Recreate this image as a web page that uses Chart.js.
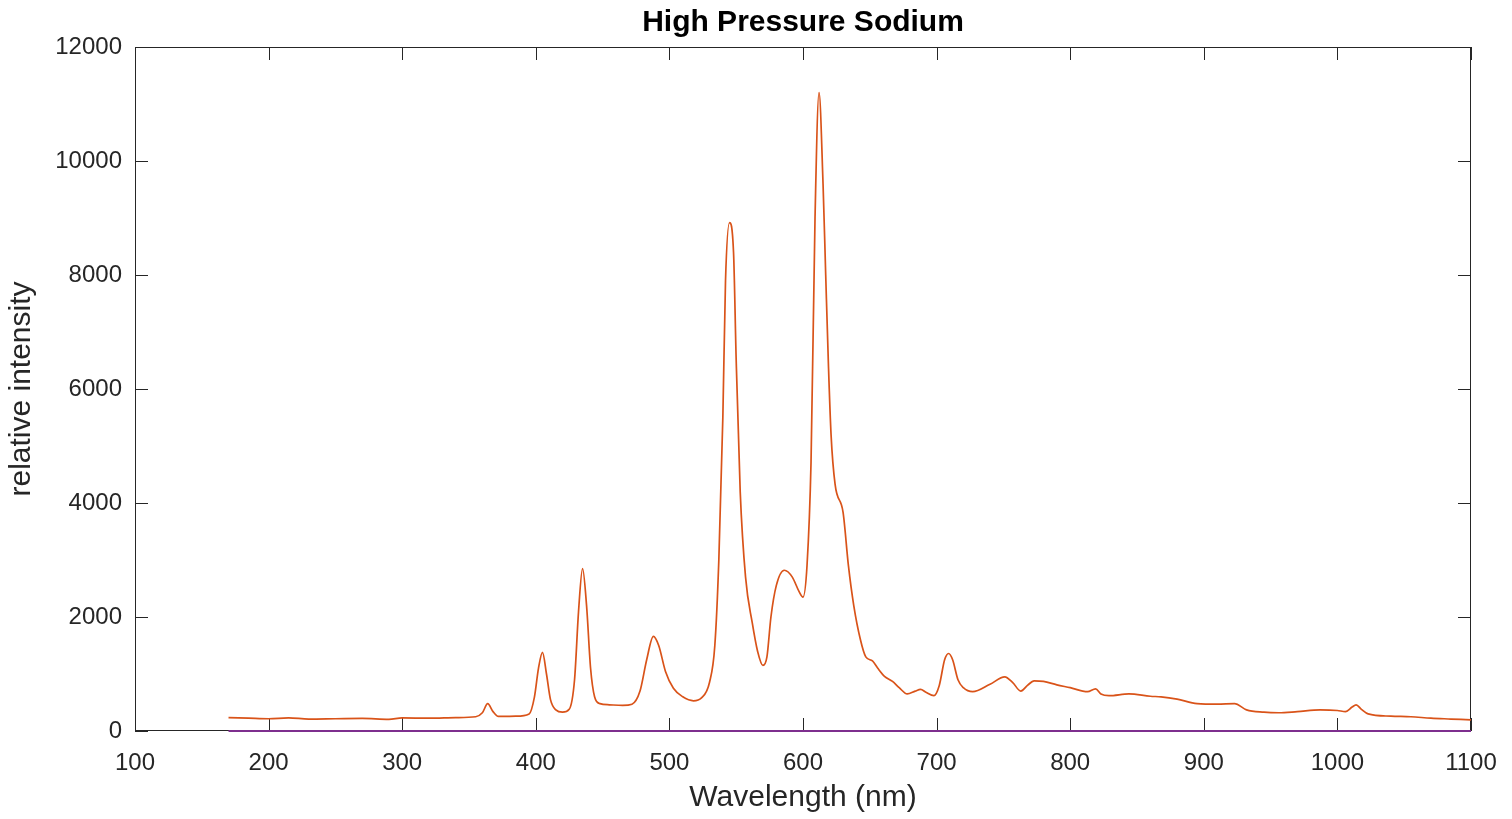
<!DOCTYPE html>
<html>
<head>
<meta charset="utf-8">
<script src="https://cdn.jsdelivr.net/npm/chart.js@4"></script>
<style>
  html, body { margin: 0; padding: 0; background: #fff; }
  #wrap { width: 1512px; height: 819px; }
</style>
</head>
<body>
<div id="wrap"><canvas id="spectrum" width="1512" height="819"></canvas></div>
<script>
// wavelength (nm) and relative intensity
const wavelength = [
  170, 185, 200, 215, 230, 250, 270, 290, 300, 320, 340, 355, 360, 364, 368, 372,
  385, 395, 399, 402, 405, 408, 411, 415, 420, 425, 429, 432, 435, 438, 441, 444,
  448, 455, 465, 472, 478, 483, 488, 492, 497, 503, 510, 518, 524, 530, 534, 537,
  540, 542, 545, 548, 550, 553, 557, 562, 566, 570, 573, 576, 580, 586, 592, 597,
  600, 603, 606, 609, 612, 615, 617, 619, 621, 624, 630, 634, 638, 643, 647, 652,
  656, 661, 667, 672, 678, 684, 688, 692, 698, 702, 706, 709, 712, 716, 720, 727,
  740, 751, 757, 763, 768, 773, 780, 790, 800, 813, 819, 823, 829, 844, 860, 868,
  880, 895, 910, 923, 932, 945, 956, 970, 987, 1000, 1006, 1011, 1014, 1018, 1023, 1040,
  1055, 1070, 1085, 1100
];
const intensity = [
  235, 225, 215, 230, 210, 215, 220, 205, 230, 225, 235, 250, 320, 480, 340, 255,
  260, 300, 600, 1100, 1380, 1000, 550, 370, 330, 380, 900, 2100, 2850, 2200, 1100, 600,
  480, 460, 450, 470, 700, 1250, 1660, 1500, 1050, 750, 600, 530, 580, 850, 1500, 3000,
  5500, 7900, 8920, 8400, 6500, 4200, 2700, 1900, 1400, 1150, 1300, 2000, 2550, 2820, 2700, 2450,
  2350, 2900, 4700, 9000, 11200, 9600, 8000, 6450, 5200, 4330, 3835, 2900, 2200, 1600, 1300, 1230,
  1100, 960, 870, 760, 650, 700, 730, 680, 620, 800, 1250, 1360, 1250, 900, 760, 690,
  820, 950, 850, 700, 800, 880, 870, 810, 760, 690, 740, 650, 620, 650, 610, 600,
  560, 480, 470, 480, 370, 330, 320, 340, 370, 360, 340, 420, 460, 380, 300, 260,
  250, 225, 210, 195
];
// second trace sitting on zero
const baseX = [170, 1100];
const baseY = [0, 0];

const xTicks = [100, 200, 300, 400, 500, 600, 700, 800, 900, 1000, 1100];
const yTicks = [0, 2000, 4000, 6000, 8000, 10000, 12000];

const FONT = '"Liberation Sans", Arial, Helvetica, sans-serif';
const AXIS_COLOR = '#262626';
const TITLE = 'High Pressure Sodium';

// MATLAB style box with inward ticks, title centred over the axes
const boxPlugin = {
  id: 'matlabBox',
  beforeDatasetsDraw(chart) {
    const { ctx, chartArea: a, scales } = chart;
    const len = 13;
    ctx.save();
    ctx.strokeStyle = AXIS_COLOR;
    ctx.lineWidth = 1;
    ctx.strokeRect(a.left + 0.5, a.top + 0.5, a.right - a.left - 1, a.bottom - a.top - 1);
    ctx.beginPath();
    xTicks.forEach(v => {
      const px = Math.round(scales.x.getPixelForValue(v)) + 0.5;
      ctx.moveTo(px, a.bottom);
      ctx.lineTo(px, a.bottom - len);
      ctx.moveTo(px, a.top);
      ctx.lineTo(px, a.top + len);
    });
    yTicks.forEach(v => {
      const py = Math.round(scales.y.getPixelForValue(v)) + 0.5;
      ctx.moveTo(a.left, py);
      ctx.lineTo(a.left + len, py);
      ctx.moveTo(a.right, py);
      ctx.lineTo(a.right - len, py);
    });
    ctx.stroke();

    ctx.fillStyle = '#000';
    ctx.font = 'bold 30px ' + FONT;
    ctx.textAlign = 'center';
    ctx.textBaseline = 'alphabetic';
    ctx.fillText(TITLE, (a.left + a.right) / 2, 31);
    ctx.restore();
  }
};

const ctx = document.getElementById('spectrum').getContext('2d');
new Chart(ctx, {
  type: 'line',
  data: {
    datasets: [{
      label: 'spectrum',
      data: wavelength.map((w, i) => ({ x: w, y: intensity[i] })),
      borderColor: '#D95319',
      borderWidth: 1.7,
      pointRadius: 0,
      cubicInterpolationMode: 'monotone',
      fill: false
    }, {
      label: 'zero',
      data: baseX.map((w, i) => ({ x: w, y: baseY[i] })),
      borderColor: '#7E2F8E',
      borderWidth: 2,
      pointRadius: 0,
      clip: false,
      fill: false
    }]
  },
  options: {
    responsive: false,
    animation: false,
    devicePixelRatio: 1,
    layout: { padding: { left: 0, right: 41, top: 47, bottom: 0 } },
    plugins: {
      legend: { display: false },
      tooltip: { enabled: false },
      title: { display: false }
    },
    scales: {
      x: {
        type: 'linear',
        min: 100,
        max: 1100,
        afterBuildTicks: s => { s.ticks = xTicks.map(v => ({ value: v })); },
        afterFit: s => { s.height = 88; s.paddingLeft = 0; s.paddingRight = 0; },
        grid: { display: false, drawTicks: false },
        border: { display: false },
        ticks: {
          color: AXIS_COLOR,
          padding: 18,
          maxRotation: 0,
          font: { family: FONT, size: 24 },
          callback: v => String(v)
        },
        title: {
          display: true,
          text: 'Wavelength (nm)',
          color: AXIS_COLOR,
          font: { family: FONT, size: 30 },
          padding: { top: 0, bottom: 3 }
        }
      },
      y: {
        type: 'linear',
        min: 0,
        max: 12000,
        afterBuildTicks: s => { s.ticks = yTicks.map(v => ({ value: v })); },
        afterFit: s => { s.width = 135; s.paddingTop = 0; s.paddingBottom = 0; },
        grid: { display: false, drawTicks: false },
        border: { display: false },
        ticks: {
          color: AXIS_COLOR,
          padding: 13,
          font: { family: FONT, size: 24 },
          callback: v => String(v)
        },
        title: {
          display: true,
          text: 'relative intensity',
          color: AXIS_COLOR,
          font: { family: FONT, size: 30 },
          padding: { top: 4, bottom: 0 }
        }
      }
    }
  },
  plugins: [boxPlugin]
});
</script>
</body>
</html>
